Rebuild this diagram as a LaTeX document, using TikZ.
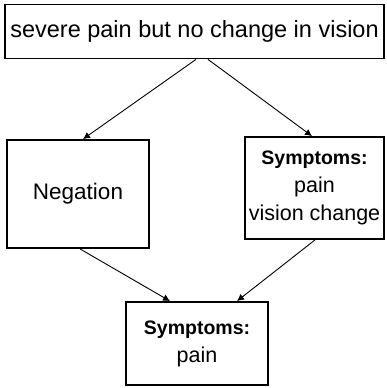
\documentclass[tikz,border=0pt]{standalone}
\usepackage{fontspec}
\setmainfont{Liberation Sans}
\usetikzlibrary{positioning,arrows.meta}

\begin{document}
\begin{tikzpicture}[
  x=1pt,y=1pt,
  box/.style={draw,line width=1.8pt,inner sep=0pt,align=center},
  txt/.style={font=\fontsize{21.5}{28}\selectfont},
  link/.style={-{Latex[length=7pt,width=7pt]},line width=0.9pt}
  ]
  \useasboundingbox (0,0) rectangle (386,-388);

  \node[box,minimum width=379pt,minimum height=54pt,font=\fontsize{23.5}{28}\selectfont]
    (sent) at (194.5,-31.5) {severe pain but no change in vision};
  \node[box,minimum width=142pt,minimum height=108pt,font=\fontsize{22.5}{28}\selectfont]
    (neg) at (78,-194) {Negation};
  \node[box,minimum width=139pt,minimum height=102pt,txt]
    (symA) at (314.5,-188) {{\bfseries\fontsize{19.5}{26}\selectfont Symptoms:}\\pain\\vision change};
  \node[box,minimum width=142pt,minimum height=83pt,txt]
    (symB) at (197,-343.5) {{\bfseries\fontsize{19.5}{26}\selectfont Symptoms:}\\pain};

  \draw[link] ([xshift=1.5pt]sent.south) -- ([xshift=5pt]neg.north);
  \draw[link] ([xshift=13.5pt]sent.south) -- ([xshift=-2.5pt]symA.north);
  \draw[link] ([xshift=2pt]neg.south) -- ([xshift=-27pt]symB.north);
  \draw[link] ([xshift=0.5pt]symA.south) -- ([xshift=40pt]symB.north);
\end{tikzpicture}
\end{document}
